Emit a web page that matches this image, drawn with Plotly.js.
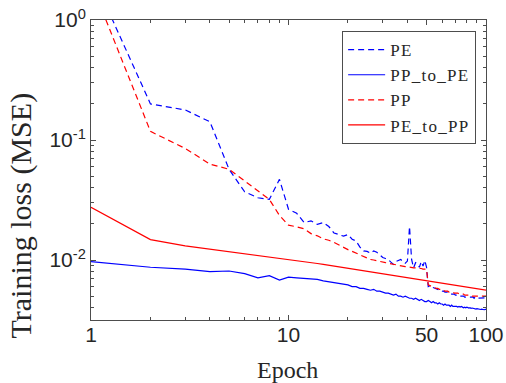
<!DOCTYPE html>
<html><head><meta charset="utf-8">
<script src="https://cdn.plot.ly/plotly-3.0.1.min.js"></script>
<style>html,body{margin:0;padding:0;background:#fff}#chart{width:506px;height:383px}
.legendtext{letter-spacing:1.3px}</style>
</head><body><div id="chart"></div>
<script>
const epochs = [1,2,3,4,5,6,7,8,9,10,11,12,13,14,15,16,17,18,19,20,
 21,22,23,24,25,26,27,28,29,30,31,32,33,34,35,36,37,38,39,40,
 41,42,43,44,45,46,47,48,49,50,51,52,53,54,55,56,57,58,59,60,
 61,62,63,64,65,66,67,68,69,70,71,72,73,74,75,76,77,78,79,80,
 81,82,83,84,85,86,87,88,89,90,91,92,93,94,95,96,97,98,99,100];

const PE = [2.5, 0.20, 0.178, 0.142, 0.057, 0.037, 0.033, 0.032, 0.047, 0.0265,
 0.0245, 0.0205, 0.0212, 0.0198, 0.0205, 0.0190, 0.0168, 0.0162, 0.0158, 0.0163,
 0.0149, 0.0144, 0.0128, 0.0119, 0.0118, 0.0114, 0.0119, 0.0116, 0.0111, 0.0105,
 0.0103, 0.0101, 0.0096, 0.0092, 0.0097, 0.0099, 0.0101, 0.0097, 0.0094, 0.0098,
 0.0190, 0.0101, 0.0086, 0.0095, 0.0093, 0.0087, 0.0097, 0.0089, 0.0099, 0.0087,
 0.0060, 0.0061, 0.0059, 0.0059, 0.0058, 0.0057, 0.0057, 0.0056, 0.0056, 0.0055,
 0.0055, 0.0054, 0.0054, 0.0054, 0.0053, 0.0053, 0.0052, 0.0052, 0.0052, 0.0051,
 0.0051, 0.0051, 0.0050, 0.0050, 0.0050, 0.0050, 0.0050, 0.0049, 0.0049, 0.0049,
 0.0049, 0.0049, 0.0049, 0.0049, 0.0049, 0.0049, 0.0048, 0.0049, 0.0048, 0.0048,
 0.0048, 0.0048, 0.0048, 0.0048, 0.0048, 0.0048, 0.0048, 0.0048, 0.0048, 0.00484];

const PP_to_PE = [0.0097, 0.0087, 0.0084, 0.0080, 0.0081, 0.0077, 0.0071, 0.0074, 0.0068, 0.0072,
 0.0071, 0.0070, 0.0069, 0.0069, 0.0067, 0.0066, 0.0065, 0.0064, 0.0063, 0.0062,
 0.0060, 0.0060, 0.0058, 0.0058, 0.0057, 0.0056, 0.0057, 0.0055, 0.0055, 0.0054,
 0.0053, 0.0053, 0.0052, 0.0051, 0.0052, 0.0050, 0.0050, 0.0049, 0.0050, 0.0049,
 0.0048, 0.0048, 0.0047, 0.0048, 0.0047, 0.0046, 0.0047, 0.0046, 0.0045, 0.0045,
 0.0046, 0.0045, 0.0044, 0.0045, 0.0044, 0.0044, 0.0043, 0.0044, 0.0043, 0.0043,
 0.0042, 0.0043, 0.0042, 0.0042, 0.0042, 0.0041, 0.0042, 0.0041, 0.0041, 0.00415,
 0.0041, 0.00405, 0.0041, 0.00405, 0.0041, 0.00405, 0.0040, 0.00405, 0.0040, 0.00405,
 0.0040, 0.00398, 0.0040, 0.00395, 0.00398, 0.00395, 0.00392, 0.00395, 0.0039, 0.00393,
 0.0039, 0.00388, 0.0039, 0.00387, 0.00389, 0.00386, 0.00388, 0.00385, 0.00387, 0.00387];

const PP = [2.05, 0.118, 0.085, 0.063, 0.057, 0.0455, 0.038, 0.032, 0.0235, 0.0195,
 0.0189, 0.0182, 0.0166, 0.0159, 0.0150, 0.0146, 0.0140, 0.0133, 0.0127, 0.0122,
 0.0118, 0.0114, 0.0110, 0.0107, 0.0104, 0.0101, 0.0100, 0.0099, 0.0098, 0.0096,
 0.0095, 0.0094, 0.0093, 0.0092, 0.0091, 0.0090, 0.0089, 0.0089, 0.0088, 0.0088,
 0.0087, 0.0087, 0.0086, 0.0086, 0.0086, 0.0085, 0.0085, 0.0084, 0.0084, 0.0084,
 0.0062, 0.0061, 0.0060, 0.0059, 0.0059, 0.0058, 0.0058, 0.0057, 0.0057, 0.0056,
 0.0056, 0.0055, 0.0055, 0.0055, 0.0054, 0.0054, 0.0054, 0.0054, 0.0053, 0.0053,
 0.0053, 0.0053, 0.0052, 0.0052, 0.0052, 0.0052, 0.0052, 0.0051, 0.0051, 0.0051,
 0.0051, 0.0051, 0.0051, 0.0051, 0.0050, 0.0050, 0.0050, 0.0050, 0.0050, 0.0050,
 0.0050, 0.0050, 0.0050, 0.0050, 0.0050, 0.0050, 0.0050, 0.0050, 0.0050, 0.0050];

const PE_to_PP = [0.0275, 0.0148, 0.0131, 0.0123, 0.0117, 0.0113, 0.0110, 0.0107, 0.0104, 0.0102,
 0.00995, 0.00973, 0.00953, 0.00935, 0.00918, 0.00903, 0.00888, 0.00875, 0.00863, 0.00852,
 0.00841, 0.00831, 0.00821, 0.00812, 0.00803, 0.00795, 0.00787, 0.00780, 0.00773, 0.00766,
 0.00760, 0.00754, 0.00748, 0.00742, 0.00736, 0.00731, 0.00726, 0.00721, 0.00716, 0.00711,
 0.00707, 0.00702, 0.00698, 0.00694, 0.00690, 0.00686, 0.00682, 0.00678, 0.00675, 0.00671,
 0.00668, 0.00665, 0.00661, 0.00658, 0.00655, 0.00652, 0.00649, 0.00646, 0.00643, 0.00640,
 0.00637, 0.00635, 0.00632, 0.00630, 0.00627, 0.00625, 0.00622, 0.00620, 0.00618, 0.00615,
 0.00613, 0.00611, 0.00609, 0.00607, 0.00605, 0.00603, 0.00601, 0.00599, 0.00597, 0.00594,
 0.00592, 0.00590, 0.00589, 0.00587, 0.00585, 0.00583, 0.00582, 0.00580, 0.00578, 0.00576,
 0.00575, 0.00573, 0.00571, 0.00570, 0.00568, 0.00567, 0.00565, 0.00564, 0.00562, 0.00560];

const seriesNames = ['PE', 'PP_to_PE', 'PP', 'PE_to_PP'];
const xTitle = 'Epoch';
const yTitle = 'Training loss (MSE)';

const xTickVals = [1, 10, 50, 100];
const xTickText = ['1', '10', '50', '100'];
const xMinorVals = [2,3,4,5,6,7,8,9,20,30,40,60,70,80,90];
const yTickVals = [1, 0.1, 0.01];
const yTickText = ['10<sup>0</sup>', '10<sup>-1</sup>', '10<sup>-2</sup>'];
const yMinorVals = [0.004,0.005,0.006,0.007,0.008,0.009,0.02,0.03,0.04,0.05,0.06,0.07,0.08,0.09,0.2,0.3,0.4,0.5,0.6,0.7,0.8,0.9];

const BLUE = '#0000ff', RED = '#ff0000';
const DASH = '6px,4px';
const W = 1.2;

const traces = [
  {x: epochs, y: PE, name: seriesNames[0], mode: 'lines', line: {color: BLUE, width: W, dash: DASH}},
  {x: epochs, y: PP_to_PE, name: seriesNames[1], mode: 'lines', line: {color: BLUE, width: W}},
  {x: epochs, y: PP, name: seriesNames[2], mode: 'lines', line: {color: RED, width: W, dash: DASH}},
  {x: epochs, y: PE_to_PP, name: seriesNames[3], mode: 'lines', line: {color: RED, width: W}}
];

const AX = '#262626';
const LN = '#4d4d4d';
const serif = 'Liberation Serif, Times New Roman, serif';
const sans = 'Liberation Sans, Arial, sans-serif';

const layout = {
  width: 506, height: 383,
  margin: {l: 91, r: 20, t: 20, b: 63},
  paper_bgcolor: '#ffffff', plot_bgcolor: '#ffffff',
  font: {family: sans, color: AX},
  showlegend: true,
  xaxis: {
    type: 'log', range: [0, 2],
    tickmode: 'array', tickvals: xTickVals, ticktext: xTickText,
    ticks: 'inside', ticklen: 5, tickwidth: 1, tickcolor: LN,
    minor: {tickmode: 'array', tickvals: xMinorVals, ticks: 'inside', ticklen: 3, tickwidth: 1, tickcolor: LN, showgrid: false},
    showline: true, linecolor: LN, linewidth: 1, mirror: 'ticks',
    showgrid: false, zeroline: false, ticklabelstandoff: -4,
    tickfont: {family: sans, size: 21, color: AX}
  },
  yaxis: {
    type: 'log', range: [-2.5, 0],
    tickmode: 'array', tickvals: yTickVals, ticktext: yTickText,
    ticks: 'inside', ticklen: 5, tickwidth: 1, tickcolor: LN,
    minor: {tickmode: 'array', tickvals: yMinorVals, ticks: 'inside', ticklen: 3, tickwidth: 1, tickcolor: LN, showgrid: false},
    showline: true, linecolor: LN, linewidth: 1, mirror: 'ticks',
    showgrid: false, zeroline: false,
    tickfont: {family: sans, size: 21, color: AX}
  },
  legend: {
    x: 0.975, xanchor: 'right', y: 0.963, yanchor: 'top',
    bgcolor: '#ffffff', bordercolor: LN, borderwidth: 1,
    font: {family: serif, size: 17, color: AX},
    itemwidth: 37, tracegroupgap: 0
  },
  annotations: [
    {text: xTitle, xref: 'paper', yref: 'paper', x: 0.4987, y: -0.167, xanchor: 'center', yanchor: 'middle',
     showarrow: false, font: {family: serif, size: 24, color: AX}},
    {text: yTitle, xref: 'paper', yref: 'paper', x: -0.176, y: 0.35, xanchor: 'center', yanchor: 'middle',
     textangle: -90, showarrow: false, font: {family: serif, size: 30, color: AX}}
  ]
};

Plotly.newPlot('chart', traces, layout, {displayModeBar: false, staticPlot: true});
</script>
</body></html>
